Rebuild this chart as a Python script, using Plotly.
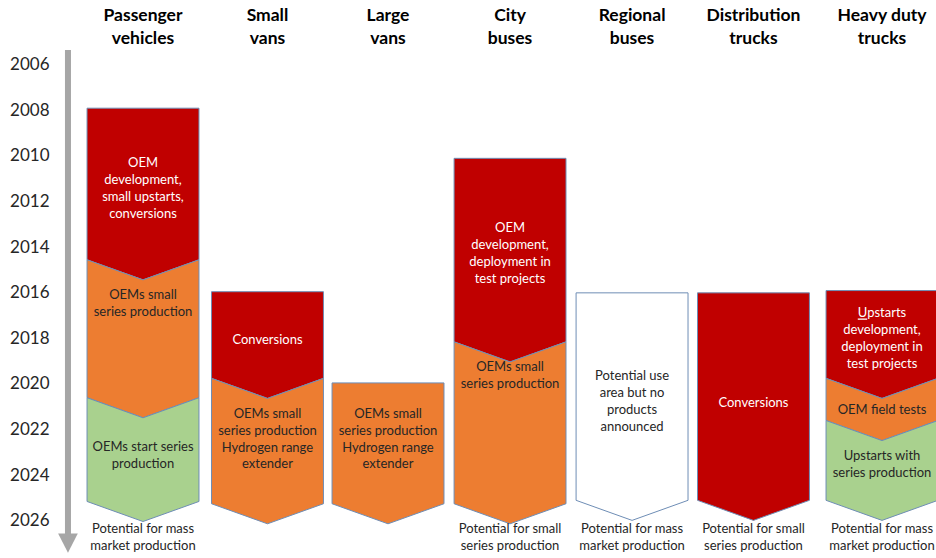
import plotly.graph_objects as go

# column headers and year ticks
columns = ["Passenger<br>vehicles", "Small<br>vans", "Large<br>vans", "City<br>buses",
           "Regional<br>buses", "Distribution<br>trucks", "Heavy duty<br>trucks"]
years = list(range(2006, 2027, 2))

# phases per column: (start year, end year, phase, label)
passenger = [(2007.85, 2014.5, "dev", "OEM<br>development,<br>small upstarts,<br>conversions"),
             (2014.5, 2020.55, "small", "OEMs small<br>series production"),
             (2020.55, 2025.1, "series", "OEMs start series<br>production")]
small_vans = [(2015.9, 2019.7, "dev", "Conversions"),
              (2019.7, 2025.2, "small", "OEMs small<br>series production<br>Hydrogen range<br>extender")]
large_vans = [(2019.9, 2025.2, "small", "OEMs small<br>series production<br>Hydrogen range<br>extender")]
city_buses = [(2010.05, 2018.1, "dev", "OEM<br>development,<br>deployment in<br>test projects"),
              (2018.1, 2025.2, "small", "OEMs small<br>series production")]
regional_buses = [(2015.95, 2025.05, "none", "Potential use<br>area but no<br>products<br>announced")]
distribution = [(2015.95, 2025.05, "dev", "Conversions")]
heavy_duty = [(2015.85, 2019.7, "dev", "<u>U</u>pstarts<br>development,<br>deployment in<br>test projects"),
              (2019.7, 2021.55, "small", "OEM field tests"),
              (2021.55, 2025.05, "series", "Upstarts with<br>series production")]
phases = [passenger, small_vans, large_vans, city_buses, regional_buses, distribution, heavy_duty]

# year at which each phase label is centred
label_years = [[2011.4, 2016.45, 2023.1], [2018.05, 2022.4], [2022.4], [2014.25, 2019.6],
               [2020.75], [2020.8], [2018.0, 2021.1, 2023.5]]

outlook = ["Potential for mass<br>market production", "", "", "Potential for small<br>series production",
           "Potential for mass<br>market production", "Potential for small<br>series production",
           "Potential for mass<br>market production"]

fill = {"dev": "#C00000", "small": "#ED7D31", "series": "#A9D18E", "none": "#FFFFFF"}
ink = {"dev": "white", "small": "#262626", "series": "#262626", "none": "#262626"}

FONT = "Lato, Carlito, Calibri, sans-serif"
COL_X = [0, 1.012, 1.992, 2.984, 3.976, 4.963, 6.008]   # column centres
HW = 0.455      # half column width (column units)
DEPTH = 0.88    # chevron depth (years)

fig = go.Figure()

# timeline arrow
arrow_x = -0.61
fig.add_trace(go.Scatter(x=[arrow_x, arrow_x], y=[2005.3, 2026.6], mode="lines",
                         line=dict(color="#A6A6A6", width=6), hoverinfo="skip"))
fig.add_trace(go.Scatter(x=[arrow_x - 0.08, arrow_x + 0.08, arrow_x, arrow_x - 0.08],
                         y=[2026.5, 2026.5, 2027.35, 2026.5], mode="lines", fill="toself",
                         fillcolor="#A6A6A6", line=dict(color="#A6A6A6", width=0), hoverinfo="skip"))

for i, col in enumerate(phases):
    c = COL_X[i]
    for k, (start, end, phase, label) in enumerate(col):
        xs = [c - HW]
        ys = [start]
        if k > 0:
            xs.append(c)
            ys.append(start + DEPTH)
        xs += [c + HW, c + HW, c, c - HW, c - HW]
        ys += [start, end, end + DEPTH, end, start]
        fig.add_trace(go.Scatter(x=xs, y=ys, mode="lines", fill="toself",
                                 fillcolor=fill[phase], line=dict(color="#6E8DB5", width=1),
                                 hoverinfo="skip"))
    for k, (start, end, phase, label) in enumerate(col):
        fig.add_trace(go.Scatter(x=[c], y=[label_years[i][k]], mode="text", text=[label],
                                 textfont=dict(family=FONT, size=13, color=ink[phase]),
                                 hoverinfo="skip"))

# headers
fig.add_trace(go.Scatter(x=COL_X, y=[2004.35] * len(columns), mode="text",
                         text=["<b>%s</b>" % c for c in columns],
                         textfont=dict(family=FONT, size=17.5, color="black"), hoverinfo="skip"))
# outlook labels
fig.add_trace(go.Scatter(x=COL_X, y=[2026.72] * len(outlook), mode="text",
                         text=outlook, textfont=dict(family=FONT, size=13, color="#262626"),
                         hoverinfo="skip"))
# year labels
fig.add_trace(go.Scatter(x=[-0.92] * len(years), y=years, mode="text", text=[str(y) for y in years],
                         textfont=dict(family=FONT, size=17, color="#262626"), hoverinfo="skip"))

fig.update_layout(
    width=936, height=558, showlegend=False,
    margin=dict(l=0, r=0, t=0, b=0),
    paper_bgcolor="white", plot_bgcolor="white",
    xaxis=dict(range=[-1.1626, 6.447], visible=False, fixedrange=True),
    yaxis=dict(range=[2027.58, 2003.105], visible=False, fixedrange=True),
)

# page body has a default margin; drop it so the figure fills the window
fig.write_html("out.html", config={"displayModeBar": False},
               post_script="document.body.style.margin='0';")
